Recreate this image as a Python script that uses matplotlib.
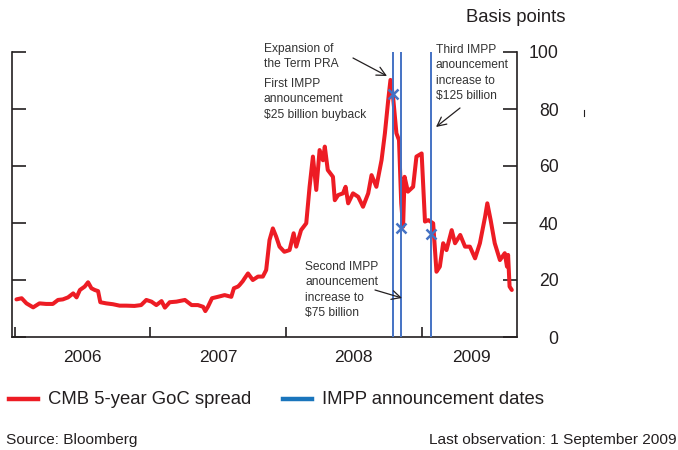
import matplotlib
matplotlib.use("Agg")
import matplotlib.pyplot as plt
from matplotlib.lines import Line2D
from matplotlib import font_manager
import pandas as pd

# ---------------- data ----------------
dates = [
    "2006-01-05", "2006-01-19", "2006-02-01", "2006-02-19", "2006-03-08", "2006-03-26",
    "2006-04-13", "2006-04-27", "2006-05-10", "2006-05-24", "2006-06-07", "2006-06-16",
    "2006-06-25", "2006-07-08", "2006-07-17", "2006-07-26", "2006-08-04", "2006-08-13",
    "2006-08-19", "2006-09-04", "2006-09-22", "2006-10-10", "2006-10-28", "2006-11-19",
    "2006-12-07", "2006-12-21", "2007-01-04", "2007-01-17", "2007-01-31", "2007-02-09",
    "2007-02-22", "2007-03-12", "2007-04-04", "2007-04-22", "2007-05-09", "2007-05-23",
    "2007-05-29", "2007-06-05", "2007-06-16", "2007-07-02", "2007-07-20", "2007-08-07",
    "2007-08-14", "2007-08-25", "2007-08-29", "2007-09-07", "2007-09-12", "2007-09-21",
    "2007-10-04", "2007-10-18", "2007-10-31", "2007-11-09", "2007-11-18", "2007-11-27",
    "2007-12-06", "2007-12-15", "2007-12-28", "2008-01-11", "2008-01-22", "2008-01-29",
    "2008-02-11", "2008-02-25", "2008-03-05", "2008-03-14", "2008-03-23", "2008-04-01",
    "2008-04-10", "2008-04-15", "2008-04-23", "2008-05-07", "2008-05-12", "2008-05-21",
    "2008-06-03", "2008-06-10", "2008-06-17", "2008-06-30", "2008-07-14", "2008-07-27",
    "2008-08-10", "2008-08-19", "2008-09-01", "2008-09-15", "2008-09-24", "2008-10-03",
    "2008-10-09", "2008-10-16", "2008-10-25", "2008-11-01", "2008-11-07", "2008-11-12",
    "2008-11-16", "2008-11-25", "2008-12-09", "2008-12-18", "2009-01-01", "2009-01-10",
    "2009-01-19", "2009-02-01", "2009-02-10", "2009-02-19", "2009-02-28", "2009-03-09",
    "2009-03-23", "2009-04-01", "2009-04-15", "2009-04-28", "2009-05-11", "2009-05-25",
    "2009-06-07", "2009-06-21", "2009-06-27", "2009-07-06", "2009-07-17", "2009-07-31",
    "2009-08-13", "2009-08-19", "2009-08-22", "2009-08-26", "2009-09-01",
]
spread = [
    13.2, 13.6, 11.8, 10.4, 11.8, 11.6,
    11.6, 13.0, 13.2, 13.9, 15.3, 13.9,
    16.5, 17.7, 19.2, 17.1, 16.5, 16.1,
    12.2, 11.8, 11.5, 11.0, 11.0, 10.9,
    11.2, 13.0, 12.4, 11.2, 12.6, 10.3,
    12.2, 12.4, 13.0, 11.2, 11.2, 10.6,
    9.1, 10.6, 13.6, 14.1, 14.7, 14.1,
    17.1, 17.7, 18.2, 19.6, 20.6, 22.3,
    20.0, 21.2, 21.2, 23.5, 34.0, 38.1,
    35.2, 31.7, 29.9, 30.5, 36.4, 31.7,
    37.5, 39.9, 52.7, 63.3, 51.6, 65.6,
    62.0, 66.8, 58.6, 56.2, 48.0, 49.8,
    50.4, 52.7, 46.9, 50.4, 49.2, 45.7,
    50.4, 56.8, 52.7, 62.1, 71.5, 83.2,
    90.2, 84.3, 71.5, 69.1, 46.9, 38.7,
    56.2, 51.0, 52.7, 63.3, 64.4, 40.5,
    41.0, 39.9, 22.9, 24.7, 32.9, 30.5,
    37.5, 32.9, 35.8, 31.7, 31.7, 27.6,
    32.9, 42.2, 46.9, 41.0, 32.9, 27.0,
    29.4, 24.7, 28.8, 17.7, 16.5,
]
impp_dates = ["2008-10-16", "2008-11-07", "2009-01-26"]
impp_values = [85.3, 38.2, 36.1]
year_ticks = ["2006-01-01", "2007-01-01", "2008-01-01", "2009-01-01"]
year_label_pos = ["2006-07-02", "2007-07-02", "2008-07-02", "2009-05-15"]
year_labels = ["2006", "2007", "2008", "2009"]
y_ticks = [0, 20, 40, 60, 80, 100]

# ---------------- style ----------------
RED = "#ed1c24"
BLUE_LINE = "#4472c4"
BLUE_LEG = "#1a75bc"
INK = "#231f20"

names = {f.name for f in font_manager.fontManager.ttflist}
if "Liberation Sans Narrow" in names:
    NARROW, nscale = "Liberation Sans Narrow", 1.0
else:
    NARROW, nscale = "Liberation Sans", 0.85
plt.rcParams["font.family"] = ["Liberation Sans", "DejaVu Sans"]

W, H = 678, 450
fig = plt.figure(figsize=(W / 100, H / 100), dpi=100)
ax = fig.add_axes([12 / W, 1 - 337 / H, (517 - 12) / W, (337 - 52) / H])

x = pd.to_datetime(dates)
ax.plot(x, spread, color=RED, lw=2.9, solid_joinstyle="round", solid_capstyle="round", zorder=2)

for d in impp_dates:
    ax.axvline(pd.Timestamp(d), color=BLUE_LINE, lw=1.4, zorder=3)
ax.plot(pd.to_datetime(impp_dates), impp_values, linestyle="none", marker="x",
        color=BLUE_LINE, markersize=7, mew=1.8, zorder=4)

ax.set_xlim(pd.Timestamp("2005-12-24"), pd.Timestamp("2009-09-15"))
ax.set_ylim(0, 100)

for s in ["left", "right", "bottom"]:
    ax.spines[s].set_color(INK)
    ax.spines[s].set_linewidth(1.2)
ax.spines["top"].set_visible(False)

ax.set_yticks(y_ticks)
ax.set_yticklabels([str(v) for v in y_ticks])
ax.tick_params(axis="y", left=True, right=True, labelleft=False, labelright=True,
               direction="in", length=10, width=1.2, color=INK, pad=30,
               labelsize=12.7, labelcolor=INK)
for lab in ax.get_yticklabels():
    lab.set_horizontalalignment("right")

ax.set_xticks(pd.to_datetime(year_ticks))
ax.set_xticklabels([])
ax.set_xticks(pd.to_datetime(year_label_pos), minor=True)
ax.set_xticklabels(year_labels, minor=True)
ax.tick_params(axis="x", which="major", direction="in", length=7, width=1.2, color=INK)
ax.tick_params(axis="x", which="minor", length=0, pad=9, labelsize=12.5, labelcolor=INK)

# axis unit label
fig.text(565 / W, 1 - 18 / H, "Basis points", ha="right", va="center",
         fontsize=13.3, color=INK)

# annotations
ANN_SIZE = 10.2 * nscale
def ftext(px, py, s):
    fig.text(px / W, 1 - py / H, s, fontsize=ANN_SIZE, color="#333333",
             family=[NARROW, "DejaVu Sans"], va="top", ha="left", linespacing=1.38)

ftext(264, 43, "Expansion of\nthe Term PRA")
ftext(264, 78, "First IMPP\nannouncement\n$25 billion buyback")
ftext(436, 44, "Third IMPP\nanouncement\nincrease to\n$125 billion")
ftext(305, 261, "Second IMPP\nanouncement\nincrease to\n$75 billion")

arrow_kw = dict(arrowstyle="->", lw=0.9, color=INK, mutation_scale=16,
                shrinkA=0, shrinkB=0)
for (tx, ty), (hx, hy) in [((353, 58), (387, 76)),
                           ((460, 108), (436, 127)),
                           ((375, 290), (402, 298))]:
    fig.patches.append(matplotlib.patches.FancyArrowPatch(
        (tx / W, 1 - ty / H), (hx / W, 1 - hy / H), transform=fig.transFigure, **arrow_kw))

# legend (manual)
ly = 1 - 399 / H
fig.add_artist(Line2D([9 / W, 38 / W], [ly, ly], color=RED, lw=3.2, transform=fig.transFigure))
fig.text(48 / W, ly, "CMB 5-year GoC spread", ha="left", va="center", fontsize=13.3, color=INK)
fig.add_artist(Line2D([283 / W, 312 / W], [ly, ly], color=BLUE_LEG, lw=3.2, transform=fig.transFigure))
fig.text(322 / W, ly, "IMPP announcement dates", ha="left", va="center", fontsize=13.3, color=INK)

# source / note
fig.text(6 / W, 1 - 440 / H, "Source: Bloomberg", ha="left", va="center",
         fontsize=13 * nscale, color=INK, family=[NARROW, "DejaVu Sans"])
fig.text(677 / W, 1 - 440 / H, "Last observation: 1 September 2009", ha="right", va="center",
         fontsize=13 * nscale, color=INK, family=[NARROW, "DejaVu Sans"])

# small stray mark at right of the chart
fig.add_artist(Line2D([584 / W, 584 / W], [1 - 110 / H, 1 - 116 / H], color=INK, lw=0.8,
                      transform=fig.transFigure))

fig.savefig("out.png", dpi=100)
